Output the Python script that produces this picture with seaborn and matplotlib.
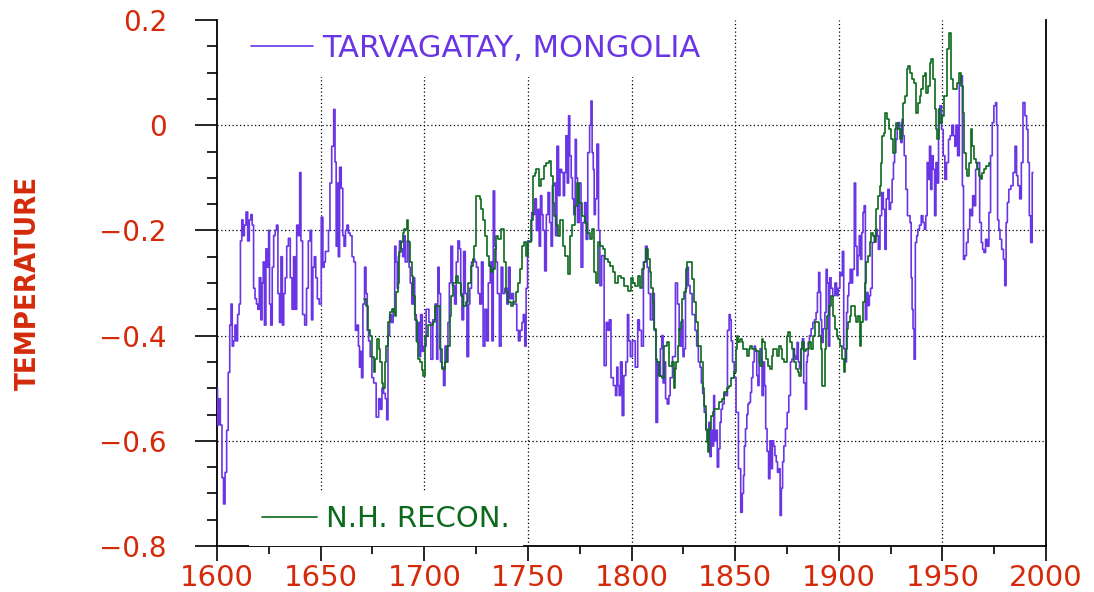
import numpy as np
import pandas as pd
import matplotlib
matplotlib.use("Agg")
import matplotlib.pyplot as plt
from matplotlib import font_manager
from matplotlib.ticker import MultipleLocator, FixedLocator
import seaborn as sns

# ---- Tarvagatay, Mongolia tree-ring temperature series ----
tarv_year = [
    1600.0, 1600.5, 1601.2, 1602.0, 1602.8, 1603.5, 1604.3, 1605.0, 1605.8, 1606.5,
    1607.0, 1607.7, 1608.3, 1609.0, 1609.6, 1610.3, 1611.0, 1611.6, 1612.3, 1612.8,
    1613.6, 1614.4, 1615.2, 1616.0, 1616.7, 1617.3, 1618.0, 1618.7, 1619.4, 1620.0,
    1620.8, 1621.5, 1622.0, 1622.6, 1623.2, 1624.0, 1624.7, 1625.1, 1625.6, 1626.3,
    1627.0, 1627.7, 1628.4, 1629.0, 1629.8, 1630.5, 1631.2, 1631.9, 1632.5, 1633.3,
    1634.0, 1634.9, 1635.8, 1636.6, 1637.3, 1638.0, 1638.9, 1639.6, 1640.2, 1640.8,
    1641.8, 1642.8, 1643.6, 1644.5, 1645.3, 1645.9, 1646.6, 1647.3, 1648.0, 1648.8,
    1649.8, 1650.8, 1651.4, 1652.0, 1652.6, 1653.4, 1654.2, 1654.8, 1655.9, 1656.7,
    1657.2, 1657.8, 1658.3, 1658.8, 1659.5, 1660.4, 1661.0, 1661.6, 1662.4, 1663.0,
    1663.8, 1664.7, 1665.6, 1666.4, 1667.2, 1668.0, 1668.5, 1669.0, 1669.5, 1670.0,
    1670.8, 1671.6, 1672.2, 1672.8, 1673.5, 1674.3, 1675.2, 1676.0, 1677.6, 1678.4,
    1679.2, 1680.0, 1680.8, 1681.6, 1682.2, 1682.8, 1683.8, 1684.5, 1685.5, 1686.0,
    1686.7, 1687.2, 1687.8, 1688.3, 1689.3, 1689.9, 1690.4, 1691.2, 1692.4, 1692.9,
    1693.6, 1694.4, 1695.0, 1695.8, 1696.5, 1697.2, 1697.8, 1698.7, 1699.4, 1700.2,
    1701.6, 1702.9, 1703.5, 1704.8, 1705.6, 1706.4, 1706.7, 1707.7, 1708.0, 1709.0,
    1709.6, 1710.4, 1711.2, 1711.7, 1712.5, 1713.2, 1714.1, 1715.2, 1715.7, 1716.8,
    1717.2, 1718.0, 1718.4, 1719.6, 1720.0, 1721.2, 1721.6, 1722.4, 1723.2, 1724.0,
    1724.8, 1725.6, 1726.4, 1727.2, 1728.0, 1728.8, 1729.7, 1730.5, 1731.3, 1732.4,
    1732.9, 1733.7, 1734.2, 1735.0, 1735.6, 1736.9, 1737.3, 1738.5, 1739.3, 1740.4,
    1740.9, 1742.0, 1742.5, 1743.6, 1744.1, 1745.2, 1745.7, 1746.8, 1747.5, 1748.1,
    1748.9, 1749.4, 1750.3, 1751.3, 1752.4, 1752.9, 1753.7, 1754.5, 1755.3, 1755.6,
    1756.6, 1756.9, 1757.7, 1758.5, 1759.3, 1760.1, 1760.9, 1761.5, 1762.2, 1763.0,
    1763.7, 1764.3, 1765.3, 1765.7, 1766.9, 1767.3, 1768.1, 1768.6, 1769.4, 1769.9,
    1770.5, 1771.3, 1771.7, 1772.6, 1773.1, 1773.7, 1774.2, 1775.3, 1776.0, 1777.0,
    1777.8, 1778.4, 1779.4, 1780.2, 1780.7, 1781.3, 1781.8, 1782.2, 1782.9, 1783.7,
    1784.5, 1785.0, 1786.2, 1787.4, 1788.2, 1789.0, 1789.6, 1790.6, 1791.9, 1792.7,
    1793.1, 1793.8, 1794.3, 1795.1, 1795.9, 1796.7, 1797.8, 1798.3, 1799.0, 1799.9,
    1801.0, 1802.6, 1803.4, 1804.2, 1805.4, 1806.1, 1807.4, 1807.7, 1808.7, 1809.5,
    1810.6, 1811.4, 1812.2, 1813.0, 1813.8, 1814.1, 1815.1, 1815.4, 1816.2, 1816.7,
    1817.8, 1818.3, 1819.0, 1820.6, 1821.8, 1822.6, 1823.4, 1823.8, 1824.7, 1825.0,
    1825.8, 1826.3, 1827.0, 1827.9, 1828.6, 1829.9, 1830.2, 1831.1, 1831.8, 1832.7,
    1833.4, 1834.0, 1834.7, 1835.5, 1836.3, 1837.1, 1837.5, 1838.2, 1838.7, 1839.5,
    1839.8, 1840.4, 1841.1, 1841.7, 1842.4, 1843.0, 1843.5, 1844.3, 1845.1, 1845.9,
    1846.7, 1847.5, 1847.8, 1848.4, 1849.1, 1850.0, 1850.9, 1852.3, 1853.1, 1853.8,
    1854.3, 1854.6, 1855.4, 1855.9, 1856.5, 1857.0, 1857.8, 1858.1, 1859.1, 1859.4,
    1860.2, 1860.7, 1861.3, 1861.8, 1862.3, 1862.6, 1863.4, 1863.9, 1864.5, 1865.0,
    1865.8, 1866.5, 1867.1, 1867.8, 1868.2, 1869.0, 1869.4, 1870.3, 1870.6, 1871.4,
    1872.0, 1872.6, 1873.2, 1873.8, 1874.8, 1875.4, 1876.4, 1877.0, 1877.8, 1878.3,
    1879.0, 1879.5, 1880.3, 1880.7, 1881.5, 1882.2, 1882.7, 1883.5, 1884.3, 1884.6,
    1885.1, 1885.4, 1886.3, 1887.0, 1888.0, 1888.6, 1889.5, 1889.9, 1890.7, 1891.0,
    1891.5, 1892.0, 1893.0, 1893.6, 1894.2, 1894.7, 1895.3, 1896.0, 1896.6, 1897.6,
    1898.7, 1899.2, 1900.3, 1900.8, 1901.4, 1902.1, 1902.7, 1903.5, 1904.0, 1904.6,
    1905.1, 1905.9, 1906.2, 1907.2, 1907.8, 1908.5, 1909.1, 1909.4, 1910.4, 1910.7,
    1911.5, 1911.9, 1912.6, 1913.1, 1913.9, 1914.3, 1915.2, 1915.5, 1916.8, 1917.5,
    1918.4, 1918.7, 1919.5, 1920.3, 1921.1, 1921.9, 1922.6, 1923.2, 1924.2, 1924.5,
    1925.5, 1926.0, 1926.8, 1927.1, 1928.0, 1928.4, 1929.2, 1929.6, 1930.3, 1930.8,
    1931.2, 1932.0, 1932.8, 1933.5, 1934.0, 1934.8, 1935.1, 1935.7, 1936.0, 1936.7,
    1937.2, 1938.0, 1938.3, 1939.6, 1940.0, 1941.2, 1941.5, 1942.5, 1942.8, 1943.6,
    1944.0, 1944.7, 1945.2, 1946.0, 1946.5, 1947.3, 1947.9, 1948.4, 1949.2, 1950.0,
    1950.8, 1951.6, 1952.4, 1953.5, 1954.0, 1955.1, 1955.6, 1956.4, 1956.7, 1958.0,
    1958.3, 1959.3, 1960.0, 1960.4, 1961.2, 1962.0, 1962.8, 1963.6, 1964.4, 1964.8,
    1965.7, 1966.4, 1967.6, 1968.4, 1969.2, 1969.6, 1970.5, 1971.2, 1972.1, 1972.8,
    1973.7, 1974.4, 1975.3, 1976.0, 1976.4, 1976.9, 1977.6, 1978.0, 1979.2, 1979.7,
    1980.5, 1981.0, 1981.7, 1982.4, 1983.7, 1984.5, 1985.6, 1986.0, 1986.9, 1987.7,
    1988.5, 1989.3, 1990.4, 1990.9, 1991.7, 1992.2, 1993.0, 1993.7,
]
tarv_temp = [
    -0.50, -0.57, -0.52, -0.57, -0.67, -0.72, -0.66, -0.58, -0.47, -0.38,
    -0.34, -0.42, -0.41, -0.38, -0.41, -0.36, -0.34, -0.22, -0.18, -0.21,
    -0.19, -0.165, -0.22, -0.18, -0.17, -0.19, -0.31, -0.33, -0.34, -0.35,
    -0.29, -0.37, -0.30, -0.26, -0.38, -0.235, -0.27, -0.20, -0.34, -0.38,
    -0.27, -0.21, -0.20, -0.19, -0.32, -0.375, -0.25, -0.38, -0.32, -0.29,
    -0.23, -0.215, -0.29, -0.35, -0.25, -0.35, -0.19, -0.21, -0.09, -0.22,
    -0.36, -0.38, -0.31, -0.22, -0.20, -0.37, -0.27, -0.25, -0.29, -0.33,
    -0.34, -0.175, -0.27, -0.26, -0.24, -0.24, -0.20, -0.11, -0.04, 0.03,
    -0.07, -0.23, -0.11, -0.25, -0.08, -0.12, -0.21, -0.23, -0.20, -0.19,
    -0.205, -0.21, -0.25, -0.26, -0.39, -0.38, -0.42, -0.46, -0.43, -0.48,
    -0.34, -0.27, -0.32, -0.39, -0.41, -0.44, -0.48, -0.49, -0.555, -0.52,
    -0.54, -0.50, -0.51, -0.52, -0.56, -0.40, -0.36, -0.375, -0.35, -0.23,
    -0.26, -0.31, -0.25, -0.22, -0.235, -0.25, -0.21, -0.26, -0.22, -0.27,
    -0.30, -0.34, -0.29, -0.36, -0.41, -0.375, -0.44, -0.36, -0.43, -0.42,
    -0.35, -0.375, -0.445, -0.37, -0.34, -0.445, -0.27, -0.32, -0.45, -0.46,
    -0.495, -0.42, -0.45, -0.375, -0.30, -0.23, -0.305, -0.34, -0.26, -0.22,
    -0.235, -0.32, -0.37, -0.24, -0.32, -0.44, -0.34, -0.31, -0.26, -0.255,
    -0.26, -0.27, -0.32, -0.34, -0.26, -0.42, -0.35, -0.41, -0.30, -0.26,
    -0.41, -0.125, -0.23, -0.26, -0.32, -0.42, -0.27, -0.32, -0.31, -0.34,
    -0.27, -0.33, -0.32, -0.34, -0.34, -0.39, -0.41, -0.39, -0.375, -0.36,
    -0.42, -0.31, -0.22, -0.22, -0.166, -0.17, -0.14, -0.20, -0.16, -0.23,
    -0.134, -0.17, -0.20, -0.277, -0.17, -0.128, -0.185, -0.23, -0.115, -0.11,
    -0.21, -0.04, -0.134, -0.084, -0.09, -0.134, -0.09, -0.02, -0.11, 0.018,
    -0.058, -0.10, -0.14, -0.17, -0.027, -0.10, -0.185, -0.11, -0.27, -0.185,
    -0.147, -0.217, -0.052, 0.0, 0.046, -0.052, -0.084, -0.17, -0.14, -0.036,
    -0.20, -0.305, -0.248, -0.457, -0.375, -0.39, -0.37, -0.48, -0.495, -0.514,
    -0.46, -0.495, -0.514, -0.45, -0.552, -0.476, -0.45, -0.36, -0.41, -0.44,
    -0.41, -0.46, -0.37, -0.39, -0.42, -0.26, -0.23, -0.27, -0.32, -0.37,
    -0.32, -0.39, -0.565, -0.45, -0.476, -0.425, -0.40, -0.49, -0.45, -0.52,
    -0.53, -0.514, -0.48, -0.44, -0.30, -0.34, -0.39, -0.42, -0.37, -0.44,
    -0.425, -0.31, -0.27, -0.305, -0.32, -0.36, -0.36, -0.39, -0.42, -0.45,
    -0.46, -0.49, -0.51, -0.546, -0.58, -0.60, -0.565, -0.63, -0.58, -0.61,
    -0.514, -0.60, -0.58, -0.65, -0.615, -0.565, -0.54, -0.53, -0.51, -0.514,
    -0.39, -0.36, -0.37, -0.41, -0.45, -0.48, -0.546, -0.653, -0.736, -0.70,
    -0.666, -0.61, -0.577, -0.55, -0.53, -0.527, -0.508, -0.48, -0.45, -0.42,
    -0.43, -0.476, -0.495, -0.45, -0.425, -0.445, -0.514, -0.45, -0.495, -0.577,
    -0.62, -0.672, -0.60, -0.653, -0.60, -0.61, -0.628, -0.64, -0.66, -0.653,
    -0.742, -0.69, -0.64, -0.61, -0.577, -0.546, -0.514, -0.45, -0.445, -0.425,
    -0.438, -0.445, -0.413, -0.45, -0.463, -0.425, -0.406, -0.49, -0.54, -0.45,
    -0.438, -0.413, -0.40, -0.387, -0.375, -0.37, -0.356, -0.318, -0.28, -0.318,
    -0.37, -0.413, -0.387, -0.356, -0.274, -0.30, -0.42, -0.29, -0.31, -0.324,
    -0.30, -0.324, -0.31, -0.28, -0.286, -0.24, -0.425, -0.45, -0.356, -0.324,
    -0.30, -0.274, -0.30, -0.274, -0.11, -0.23, -0.286, -0.248, -0.21, -0.255,
    -0.204, -0.166, -0.153, -0.37, -0.318, -0.343, -0.324, -0.31, -0.223, -0.21,
    -0.198, -0.21, -0.236, -0.172, -0.128, -0.16, -0.236, -0.14, -0.122, -0.16,
    -0.147, -0.103, -0.071, -0.052, -0.027, 0.0, 0.005, -0.008, -0.033, 0.011,
    -0.02, -0.058, -0.122, -0.172, -0.172, -0.185, -0.29, -0.35, -0.387, -0.445,
    -0.223, -0.21, -0.198, -0.19, -0.172, -0.185, -0.198, -0.172, -0.071, -0.103,
    -0.04, -0.122, -0.058, -0.084, -0.172, -0.071, -0.11, 0.03, 0.037, -0.008,
    -0.058, -0.103, -0.071, -0.027, -0.02, 0.0, -0.02, -0.04, 0.0, -0.058,
    0.08, 0.094, -0.115, -0.255, -0.248, -0.223, -0.198, -0.16, -0.172, -0.134,
    -0.153, -0.084, -0.071, -0.185, -0.223, -0.236, -0.242, -0.217, -0.23, -0.166,
    -0.058, 0.005, 0.037, 0.043, 0.0, -0.18, -0.198, -0.217, -0.236, -0.255,
    -0.305, -0.185, -0.147, -0.122, -0.115, -0.09, -0.04, -0.096, -0.115, -0.14,
    -0.071, 0.043, 0.018, -0.008, -0.071, -0.172, -0.223, -0.09,
]

# ---- Northern Hemisphere reconstruction ----
nh_year = [
    1671.1, 1672.7, 1673.5, 1674.3, 1675.2, 1676.0, 1676.8, 1677.6, 1678.4, 1679.2,
    1679.6, 1680.8, 1681.2, 1681.9, 1682.8, 1684.0, 1684.8, 1685.6, 1686.4, 1686.7,
    1687.6, 1688.0, 1689.2, 1689.9, 1690.9, 1692.0, 1692.8, 1693.6, 1694.4, 1695.2,
    1696.0, 1696.8, 1697.6, 1698.4, 1699.2, 1700.0, 1700.8, 1702.4, 1703.2, 1704.8,
    1705.6, 1707.2, 1708.0, 1709.6, 1710.4, 1712.0, 1712.5, 1713.6, 1714.4, 1716.0,
    1716.8, 1718.4, 1719.2, 1720.8, 1721.6, 1723.2, 1723.7, 1724.5, 1725.3, 1726.5,
    1726.9, 1728.0, 1728.9, 1729.7, 1730.5, 1731.7, 1732.4, 1733.7, 1734.1, 1735.3,
    1736.1, 1738.1, 1738.8, 1740.1, 1740.9, 1742.5, 1743.3, 1744.9, 1745.7, 1746.8,
    1747.8, 1748.9, 1749.7, 1750.5, 1752.1, 1752.9, 1753.7, 1754.5, 1756.1, 1756.9,
    1758.5, 1759.3, 1760.9, 1761.7, 1762.5, 1763.0, 1764.1, 1764.9, 1766.5, 1767.3,
    1768.9, 1769.7, 1770.5, 1772.1, 1772.9, 1774.5, 1775.3, 1776.9, 1777.8, 1779.4,
    1780.2, 1781.8, 1782.2, 1783.8, 1784.2, 1785.8, 1786.6, 1788.2, 1789.0, 1790.6,
    1791.4, 1793.0, 1793.8, 1796.2, 1797.0, 1799.4, 1800.2, 1801.0, 1802.6, 1803.4,
    1805.0, 1805.5, 1806.6, 1807.4, 1808.7, 1809.0, 1810.3, 1810.6, 1811.4, 1811.9,
    1813.0, 1813.8, 1815.4, 1816.2, 1817.8, 1818.6, 1820.2, 1820.6, 1821.5, 1821.8,
    1822.6, 1823.1, 1824.2, 1825.0, 1825.8, 1826.6, 1827.4, 1828.2, 1829.9, 1830.7,
    1831.8, 1832.7, 1833.9, 1834.7, 1835.5, 1836.0, 1836.6, 1837.1, 1837.9, 1838.7,
    1839.5, 1840.3, 1841.9, 1842.7, 1844.3, 1845.1, 1846.7, 1847.5, 1848.7, 1849.9,
    1850.7, 1851.1, 1851.9, 1853.0, 1853.3, 1854.6, 1855.4, 1856.2, 1857.0, 1857.5,
    1858.6, 1859.4, 1861.0, 1861.8, 1862.6, 1863.0, 1864.2, 1864.5, 1865.5, 1866.2,
    1867.4, 1867.9, 1869.0, 1869.4, 1870.6, 1871.4, 1872.6, 1873.0, 1874.6, 1875.1,
    1876.2, 1876.7, 1877.9, 1878.7, 1880.3, 1880.6, 1881.5, 1881.9, 1882.7, 1883.5,
    1885.1, 1885.9, 1887.5, 1888.0, 1888.6, 1889.9, 1890.7, 1891.8, 1892.3, 1893.1,
    1893.4, 1894.4, 1894.7, 1896.3, 1896.6, 1897.9, 1898.4, 1899.5, 1899.8, 1901.4,
    1902.0, 1902.7, 1903.0, 1903.7, 1904.3, 1905.1, 1905.6, 1906.7, 1907.2, 1908.3,
    1908.8, 1909.9, 1910.4, 1911.5, 1912.0, 1913.1, 1913.6, 1914.7, 1915.2, 1916.3,
    1916.8, 1917.9, 1918.4, 1919.5, 1920.0, 1920.7, 1921.1, 1922.3, 1922.7, 1923.9,
    1924.3, 1926.0, 1926.4, 1927.5, 1928.0, 1929.2, 1930.0, 1930.8, 1931.6, 1932.4,
    1933.2, 1933.6, 1934.8, 1935.6, 1937.2, 1937.6, 1938.8, 1939.3, 1940.4, 1940.9,
    1942.0, 1942.5, 1943.6, 1944.0, 1945.2, 1945.7, 1946.8, 1947.3, 1947.9, 1948.7,
    1949.2, 1950.0, 1951.6, 1952.9, 1953.6, 1954.5, 1955.6, 1956.4, 1957.7, 1958.3,
    1959.6, 1960.0, 1960.9, 1961.5, 1962.5, 1963.1, 1964.1, 1964.8, 1965.7, 1966.4,
    1967.3, 1968.0, 1968.9, 1969.6, 1970.8, 1971.6, 1973.2,
]
nh_temp = [
    -0.33, -0.343, -0.39, -0.40, -0.44, -0.47, -0.445, -0.406, -0.425, -0.45,
    -0.49, -0.50, -0.45, -0.42, -0.375, -0.356, -0.35, -0.356, -0.362, -0.318,
    -0.30, -0.242, -0.223, -0.204, -0.198, -0.18, -0.223, -0.26, -0.286, -0.324,
    -0.37, -0.413, -0.445, -0.45, -0.466, -0.476, -0.40, -0.38, -0.38, -0.375,
    -0.343, -0.343, -0.425, -0.463, -0.45, -0.42, -0.362, -0.324, -0.30, -0.286,
    -0.30, -0.324, -0.343, -0.337, -0.30, -0.267, -0.255, -0.23, -0.134, -0.134,
    -0.14, -0.16, -0.18, -0.21, -0.248, -0.267, -0.28, -0.274, -0.236, -0.21,
    -0.217, -0.198, -0.26, -0.318, -0.337, -0.343, -0.337, -0.318, -0.30, -0.274,
    -0.23, -0.223, -0.248, -0.223, -0.18, -0.096, -0.09, -0.084, -0.115, -0.103,
    -0.077, -0.071, -0.068, -0.096, -0.147, -0.172, -0.19, -0.21, -0.18, -0.23,
    -0.248, -0.283, -0.21, -0.19, -0.153, -0.11, -0.147, -0.172, -0.185, -0.204,
    -0.217, -0.198, -0.28, -0.30, -0.223, -0.23, -0.236, -0.255, -0.26, -0.267,
    -0.28, -0.30, -0.286, -0.29, -0.305, -0.315, -0.29, -0.30, -0.305, -0.286,
    -0.31, -0.274, -0.26, -0.236, -0.255, -0.28, -0.31, -0.337, -0.387, -0.445,
    -0.45, -0.476, -0.48, -0.42, -0.413, -0.457, -0.45, -0.50, -0.463, -0.45,
    -0.42, -0.387, -0.375, -0.33, -0.318, -0.274, -0.26, -0.26, -0.293, -0.337,
    -0.375, -0.42, -0.45, -0.50, -0.533, -0.577, -0.603, -0.622, -0.577, -0.552,
    -0.546, -0.54, -0.54, -0.527, -0.52, -0.508, -0.50, -0.495, -0.48, -0.47,
    -0.425, -0.40, -0.413, -0.406, -0.413, -0.425, -0.425, -0.438, -0.425, -0.42,
    -0.425, -0.425, -0.43, -0.45, -0.457, -0.406, -0.413, -0.425, -0.445, -0.457,
    -0.463, -0.438, -0.425, -0.425, -0.438, -0.42, -0.425, -0.445, -0.45, -0.40,
    -0.394, -0.413, -0.425, -0.45, -0.463, -0.47, -0.476, -0.425, -0.413, -0.43,
    -0.425, -0.413, -0.425, -0.40, -0.375, -0.375, -0.40, -0.425, -0.495, -0.495,
    -0.425, -0.387, -0.362, -0.343, -0.324, -0.362, -0.387, -0.40, -0.406, -0.42,
    -0.445, -0.47, -0.445, -0.425, -0.387, -0.375, -0.362, -0.343, -0.343, -0.362,
    -0.375, -0.362, -0.42, -0.375, -0.337, -0.30, -0.26, -0.248, -0.223, -0.204,
    -0.21, -0.223, -0.16, -0.134, -0.115, -0.071, -0.02, -0.014, 0.024, 0.011,
    -0.008, -0.027, -0.052, -0.008, 0.005, -0.008, -0.027, 0.005, 0.043, 0.056,
    0.106, 0.113, 0.10, 0.087, 0.081, 0.024, 0.043, 0.056, 0.068, 0.094,
    0.10, 0.062, 0.075, 0.119, 0.125, 0.087, 0.03, -0.008, -0.027, 0.03,
    0.005, 0.018, 0.056, 0.144, 0.176, 0.087, 0.068, 0.068, 0.081, 0.10,
    0.075, 0.024, -0.052, -0.084, -0.096, -0.071, -0.008, -0.04, -0.065, -0.071,
    -0.084, -0.096, -0.103, -0.09, -0.084, -0.077, -0.071,
]

x_ticks = [1600, 1650, 1700, 1750, 1800, 1850, 1900, 1950, 2000]
y_ticks = [0.2, 0.0, -0.2, -0.4, -0.6, -0.8]
y_tick_labels = ["0.2", "0", "\u22120.2", "\u22120.4", "\u22120.6", "\u22120.8"]

PURPLE = "#6a35e4"
GREEN = "#0b6a1c"
RED = "#d42a0a"

sns.set_style("white")
plt.rcParams["font.family"] = ["DejaVu Sans"]

tarv = pd.DataFrame({"year": tarv_year, "temp": tarv_temp})
nh = pd.DataFrame({"year": nh_year, "temp": nh_temp})

fig = plt.figure(figsize=(10.94, 5.92), dpi=100)
ax = fig.add_axes([217 / 1094, 1 - 546 / 592, (1046 - 217) / 1094, (546 - 20) / 592])

sns.lineplot(data=tarv, x="year", y="temp", ax=ax, color=PURPLE, linewidth=1.2,
             estimator=None, sort=False, drawstyle="steps-mid", zorder=3)
sns.lineplot(data=nh, x="year", y="temp", ax=ax, color=GREEN, linewidth=1.2,
             estimator=None, sort=False, drawstyle="steps-mid", zorder=4)
line_tarv, line_nh = ax.get_lines()[:2]

ax.set_xlim(1600, 2000)
ax.set_ylim(-0.8, 0.2)
ax.set_xlabel("")
ax.set_ylabel("")

# dotted grid only at interior major ticks
for gx in x_ticks[1:-1]:
    ax.axvline(gx, color="black", linestyle=(0, (1, 2)), linewidth=0.9, zorder=1)
for gy in y_ticks[1:-1]:
    ax.axhline(gy, color="black", linestyle=(0, (1, 2)), linewidth=0.9, zorder=1)

ax.xaxis.set_major_locator(FixedLocator(x_ticks))
ax.xaxis.set_minor_locator(MultipleLocator(25))
ax.yaxis.set_major_locator(FixedLocator(y_ticks))
ax.yaxis.set_minor_locator(MultipleLocator(0.05))
ax.set_yticklabels(y_tick_labels)

ax.tick_params(axis="y", which="major", direction="out", length=16, width=1.2,
               color="black", pad=20, labelsize=20, labelcolor=RED, left=True)
ax.tick_params(axis="y", which="minor", direction="out", length=7, width=1.2,
               color="black", left=True)
ax.tick_params(axis="x", which="major", direction="out", length=11, width=1.2,
               color="black", pad=2, labelsize=21, labelcolor=RED, bottom=True)
ax.tick_params(axis="x", which="minor", direction="out", length=6, width=1.2,
               color="black", bottom=True)

for side in ("left", "bottom", "right"):
    ax.spines[side].set_visible(True)
    ax.spines[side].set_color("black")
    ax.spines[side].set_linewidth(1.3)
ax.spines["top"].set_visible(False)

# series keys
leg1 = ax.legend([line_tarv], ["TARVAGATAY, MONGOLIA"], loc="upper left",
                 bbox_to_anchor=(0.025, 1.0), borderaxespad=0, frameon=True,
                 facecolor="white", edgecolor="none", framealpha=1, fancybox=False,
                 handlelength=2.0, handletextpad=0.3, borderpad=0.45,
                 prop={"size": 22}, labelcolor=PURPLE)
leg1.set_zorder(5)
ax.add_artist(leg1)
leg2 = ax.legend([line_nh], ["N.H. RECON."], loc="lower left",
                 bbox_to_anchor=(0.038, 0.0), borderaxespad=0, frameon=True,
                 facecolor="white", edgecolor="none", framealpha=1, fancybox=False,
                 handlelength=1.9, handletextpad=0.3, borderpad=0.45,
                 prop={"size": 21}, labelcolor=GREEN)
leg2.set_zorder(5)

# axis title in a narrow bold face when one is available
names = {f.name for f in font_manager.fontManager.ttflist}
if "Liberation Sans Narrow" in names:
    title_font = dict(family="Liberation Sans Narrow", weight="bold", size=25)
else:
    title_font = dict(family="DejaVu Sans", stretch="condensed", weight="bold", size=21)
fig.text(28 / 1094, 1 - 283 / 592, "TEMPERATURE", rotation=90, ha="center",
         va="center", color=RED, **title_font)

fig.savefig("out.png", dpi=100, facecolor="white")
